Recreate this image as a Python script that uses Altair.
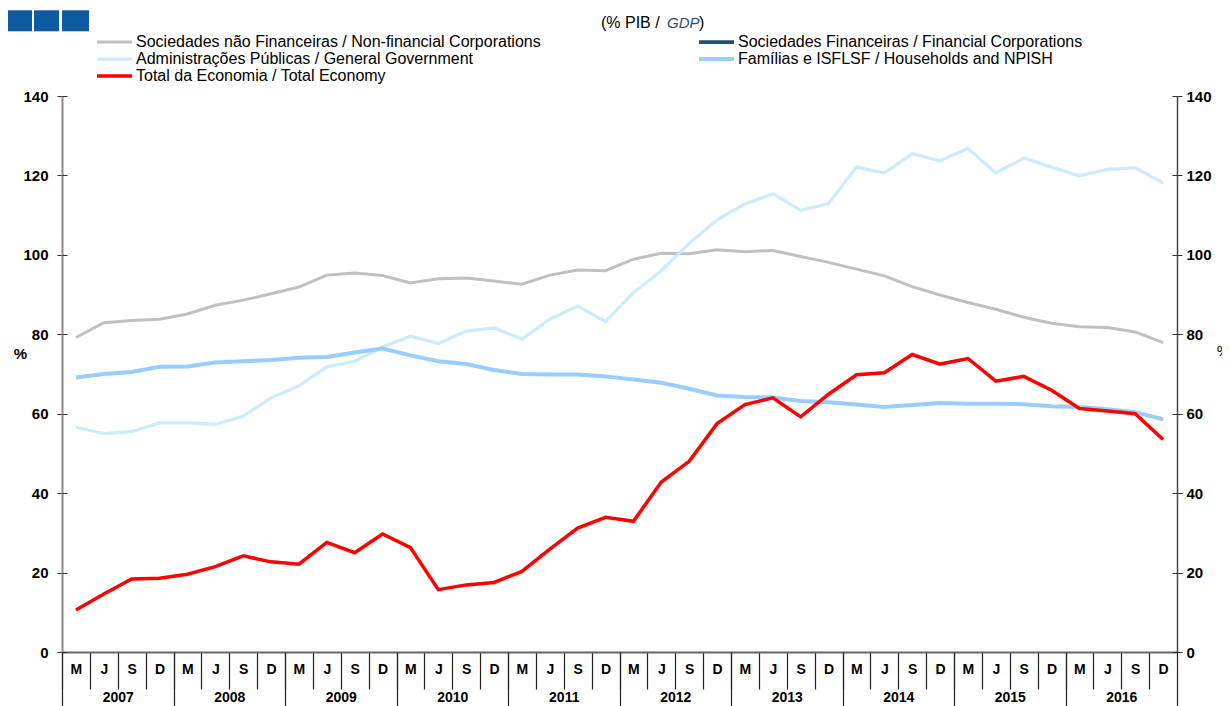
import altair as alt
import pandas as pd

years = [str(y) for y in range(2007, 2017)]
months = ["M", "J", "S", "D"]
quarters = [f"{y}-{m}" for y in years for m in months]

NFC = "Sociedades não Financeiras / Non-financial Corporations"
FC = "Sociedades Financeiras / Financial Corporations"
GG = "Administrações Públicas / General Government"
HH = "Famílias e ISFLSF / Households and NPISH"
TE = "Total da Economia / Total Economy"

# legend order (column-major, 3 rows): left column NFC, GG, TE; right column FC, HH
series_names = [NFC, GG, TE, FC, HH]
series_colors = ["#C0C0C0", "#CDEBFF", "#FF0000", "#1F4E79", "#99CCFF"]
series_widths = [3, 4, 4, 3, 4]

nfc = [79.2, 82.9, 83.5, 83.8, 85.1, 87.3, 88.6, 90.2, 91.9, 94.9,
       95.4, 94.8, 92.9, 94.0, 94.2, 93.4, 92.6, 94.9, 96.2, 96.0,
       98.9, 100.4, 100.3, 101.3, 100.8, 101.1, 99.6, 98.1, 96.4, 94.7,
       92.0, 89.9, 88.0, 86.3, 84.3, 82.8, 81.9, 81.7, 80.6, 77.9]
gg = [56.6, 55.0, 55.5, 57.7, 57.7, 57.3, 59.4, 64.0, 67.0, 71.8,
      73.2, 76.8, 79.5, 77.7, 80.8, 81.6, 78.8, 83.8, 87.1, 83.2,
      90.5, 96.0, 102.9, 108.8, 112.8, 115.4, 111.2, 112.9, 122.1, 120.6,
      125.5, 123.7, 126.8, 120.6, 124.4, 122.1, 119.9, 121.5, 121.9, 118.1]
hh = [69.1, 70.0, 70.5, 71.8, 71.9, 72.9, 73.2, 73.5, 74.1, 74.3,
      75.4, 76.4, 74.7, 73.2, 72.5, 71.0, 70.0, 69.9, 69.9, 69.4,
      68.6, 67.8, 66.3, 64.6, 64.2, 64.1, 63.2, 62.9, 62.3, 61.7,
      62.2, 62.7, 62.5, 62.5, 62.4, 61.9, 61.7, 61.1, 60.4, 58.6]
total = [10.6, 14.6, 18.4, 18.6, 19.6, 21.5, 24.2, 22.7, 22.1, 27.6,
         25.0, 29.7, 26.3, 15.7, 16.9, 17.5, 20.3, 25.9, 31.2, 33.9,
         32.9, 42.8, 48.0, 57.5, 62.3, 64.0, 59.2, 64.9, 69.8, 70.3,
         74.9, 72.5, 73.9, 68.2, 69.4, 65.9, 61.3, 60.7, 60.0, 53.5]
y_ticks = [0, 20, 40, 60, 80, 100, 120, 140]

rows = []
for name, vals in [(NFC, nfc), (GG, gg), (HH, hh), (TE, total)]:
    for q, v in zip(quarters, vals):
        rows.append({"q": q, "v": v, "s": name})
df = pd.DataFrame(rows)
dummy = pd.DataFrame({"k": [0]})

W, H = 1115, 556
step = W / 40
FONT = "Liberation Sans"
ox, oy = 62, 95.7  # plot origin on page

xscale = alt.Scale(type="point", padding=0.5, domain=quarters)
yscale = alt.Scale(domain=[0, 140], nice=False)


def X(axis):
    return alt.X("q:O", scale=xscale, axis=axis)


def Y(axis):
    return alt.Y("v:Q", scale=yscale, axis=axis)


lines = alt.Chart(df).mark_line().encode(
    x=X(alt.Axis(orient="bottom", labelExpr="split(datum.value, '-')[1]",
                 ticks=False, domain=False, labelAngle=0, labelPadding=10,
                 labelFontSize=14, labelFontWeight="bold", labelColor="#000",
                 labelOverlap=False, grid=False, title="")),
    y=Y(alt.Axis(orient="left", values=y_ticks, tickSize=5, tickColor="#333",
                 domainColor="#8a8a8a", domainWidth=2, labelPadding=9,
                 labelFontSize=15, labelFontWeight="bold", labelColor="#000",
                 grid=False, title="%", titleAngle=0, titleX=-42, titleY=257,
                 titleFontSize=15, titleFontWeight="bold", titleAlign="center",
                 titleBaseline="middle", titleColor="#000")),
    color=alt.Color("s:N", scale=alt.Scale(domain=series_names, range=series_colors),
                    legend=alt.Legend(orient="none", legendX=45, legendY=-62,
                                      columns=2, columnPadding=150, rowPadding=1,
                                      symbolType="M-3.6,0H3.4", symbolSize=100,
                                      symbolStrokeWidth=3.5, symbolFillColor="transparent",
                                      labelFontSize=16,
                                      labelFont=FONT, labelColor="#000",
                                      labelOffset=13, labelLimit=600, padding=0,
                                      title=None)),
    strokeWidth=alt.StrokeWidth("s:N", scale=alt.Scale(domain=series_names, range=series_widths),
                                legend=None),
)

inv = alt.Chart(df).mark_line(strokeOpacity=0)

layer2 = inv.encode(
    x=X(alt.Axis(orient="bottom", labels=False, domain=True, domainColor="#666",
                 domainWidth=2, ticks=True, tickSize=37, tickOffset=-step / 2,
                 tickColor="#222", tickWidth=1.2, grid=False, title="")),
    y=Y(alt.Axis(orient="right", values=y_ticks, tickSize=5, tickColor="#333",
                 domainColor="#444", domainWidth=1.5, labelPadding=4,
                 labelFontSize=15, labelFontWeight="bold", labelColor="#000",
                 grid=False, title="%", titleAngle=0, titleX=46, titleY=254,
                 titleFontSize=15, titleFontWeight="normal", titleAlign="center",
                 titleBaseline="middle", titleColor="#000")),
)

layer3 = inv.encode(
    x=X(alt.Axis(orient="bottom",
                 labelExpr="split(datum.value, '-')[1] == 'S' ? split(datum.value, '-')[0] : ''",
                 labelOffset=-step / 2, ticks=False, domain=False, labelAngle=0,
                 labelPadding=38, labelFontSize=14, labelFontWeight="bold",
                 labelColor="#000", labelOverlap=False, grid=False, title="")),
    y=Y(alt.Axis(orient="left", values=y_ticks, offset=-5, tickSize=5,
                 tickColor="#333", labels=False, domain=False, grid=False, title="")),
)

layer4 = inv.encode(
    x=X(alt.Axis(orient="bottom", values=[f"{y}-M" for y in years], labels=False,
                 domain=False, tickSize=60, tickOffset=-step / 2, tickColor="#222",
                 tickWidth=1.2, grid=False, title="")),
    y=Y(alt.Axis(orient="right", values=y_ticks, offset=-5, tickSize=5,
                 tickColor="#333", labels=False, domain=False, grid=False, title="")),
)

layer5 = inv.encode(
    x=X(alt.Axis(orient="bottom", values=[quarters[-1]], labels=False,
                 domain=False, tickSize=60, tickOffset=step / 2, tickColor="#222",
                 tickWidth=1.2, grid=False, title="")),
    y=Y(None),
)

# header decorations
box_left = [6, 34, 62]
box_right = [32, 59, 89]
boxes = [
    alt.Chart(dummy).mark_rect(color="#0E5AA0").encode(
        x=alt.value(l - ox), x2=alt.value(r - ox),
        y=alt.value(10 - oy), y2=alt.value(31 - oy))
    for l, r in zip(box_left, box_right)
]

sub1 = alt.Chart(dummy).mark_text(text="(% PIB /", align="left", baseline="middle",
                                  fontSize=16, font=FONT, color="#000").encode(
    x=alt.value(601 - ox), y=alt.value(23 - oy))
sub2 = alt.Chart(dummy).mark_text(text="GDP", align="left", baseline="middle",
                                  fontSize=15, font=FONT, fontStyle="italic",
                                  color="#1F4E79").encode(
    x=alt.value(667 - ox), y=alt.value(23 - oy))
sub3 = alt.Chart(dummy).mark_text(text=")", align="left", baseline="middle",
                                  fontSize=16, font=FONT, color="#000").encode(
    x=alt.value(699 - ox), y=alt.value(23 - oy))

chart = alt.layer(lines, layer2, layer3, layer4, layer5, *boxes, sub1, sub2, sub3).resolve_axis(
    x="independent", y="independent"
).properties(
    width=W, height=H,
    autosize=alt.AutoSizeParams(type="none"),
    padding={"left": 54, "top": 88, "right": 45, "bottom": 54},
).configure_view(stroke=None).configure_axis(
    labelFont=FONT, titleFont=FONT
).configure_text(font=FONT)

chart.save("out.html", embed_options={"renderer": "svg", "actions": False})
